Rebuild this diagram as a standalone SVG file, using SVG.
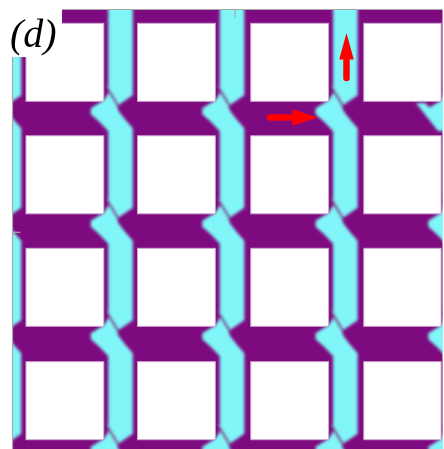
<svg xmlns="http://www.w3.org/2000/svg" xmlns:xlink="http://www.w3.org/1999/xlink" width="444" height="449" viewBox="0 0 444 449">
<style>
.field{fill:#7e0a80}
.cyan{fill:#80f6f8}
.sq{fill:#ffffff;stroke:#cfa9d0;stroke-width:1}
.cut{stroke:#7e0a80;stroke-width:2.6;stroke-linecap:round;opacity:0.85;fill:none}
.tick{stroke:#a8a8a8;stroke-width:1.2}
.arrow{fill:#ff0000;stroke:none}
.shaft{stroke:#ff0000;stroke-width:6.5;stroke-linecap:round;fill:none}
.lbl{font-family:"Liberation Serif","Times New Roman",serif;font-style:italic;font-size:40px;fill:#000}
</style>
<defs>
<clipPath id="fieldClip"><rect x="13" y="10" width="429.5" height="439"/></clipPath>
<filter id="soft" filterUnits="userSpaceOnUse" x="0" y="0" width="444" height="449"><feGaussianBlur stdDeviation="1.6"/></filter>
<g id="col">
<path class="cyan" d="M4.5,0 L4.5,93.3 L0,100.3 L-13,108.3 L-13,114.3 L-4,122.3 L4.5,131.3 L4.5,205.8 L0,212.8 L-13,220.8 L-13,226.8 L-4,234.8 L4.5,243.8 L4.5,318.3 L0,325.3 L-13,333.3 L-13,339.3 L-4,347.3 L4.5,356.3 L4.5,431.7 L0,438.7 L-13,446.7 L-13,452.7 L-4,460.7 L4.5,469.7 L4.5,472 L29,472 L29,466.7 L22,458.7 L15,449.7 L13,444.7 L29,433.7 L29,353.3 L22,345.3 L15,336.3 L13,331.3 L29,320.3 L29,240.8 L22,232.8 L15,223.8 L13,218.8 L29,207.8 L29,128.3 L22,120.3 L15,111.3 L13,106.3 L29,95.3 L29,0 Z"/>
<path class="cut" d="M3,87.3 L14,105.3 M3,199.8 L14,217.8 M3,312.3 L14,330.3 M3,425.7 L14,443.7"/>
</g>
</defs>
<g id="background">
<rect class="field" x="13" y="10" width="429.5" height="439"/>
</g>
<g id="stripes" clip-path="url(#fieldClip)">
<g filter="url(#soft)">
<use xlink:href="#col" href="#col" x="-7.8"/>
<use xlink:href="#col" href="#col" x="103.8"/>
<use xlink:href="#col" href="#col" x="215.3"/>
<use xlink:href="#col" href="#col" x="328.6"/>
<use xlink:href="#col" href="#col" x="441.3"/>
<path class="cyan" d="M416,103 L425,103 L444,122 L444,131 L438,131 Z"/>
</g>
</g>
<g id="squares">
<rect class="sq" x="26" y="23.3" width="77.8" height="78"/>
<rect class="sq" x="137.5" y="23.3" width="77.8" height="78"/>
<rect class="sq" x="250.8" y="23.3" width="77.8" height="78"/>
<rect class="sq" x="363.8" y="23.3" width="77.3" height="78"/>
<rect class="sq" x="26" y="135.8" width="77.8" height="78"/>
<rect class="sq" x="137.5" y="135.8" width="77.8" height="78"/>
<rect class="sq" x="250.8" y="135.8" width="77.8" height="78"/>
<rect class="sq" x="363.8" y="135.8" width="77.3" height="78"/>
<rect class="sq" x="26" y="248.3" width="77.8" height="78"/>
<rect class="sq" x="137.5" y="248.3" width="77.8" height="78"/>
<rect class="sq" x="250.8" y="248.3" width="77.8" height="78"/>
<rect class="sq" x="363.8" y="248.3" width="77.3" height="78"/>
<rect class="sq" x="26" y="361.7" width="77.8" height="78"/>
<rect class="sq" x="137.5" y="361.7" width="77.8" height="78"/>
<rect class="sq" x="250.8" y="361.7" width="77.8" height="78"/>
<rect class="sq" x="363.8" y="361.7" width="77.3" height="78"/>
</g>
<g id="frame">
<rect x="0" y="0" width="62" height="57" fill="#ffffff"/>
<line class="tick" x1="12.5" y1="57" x2="12.5" y2="449"/>
<line class="tick" x1="62" y1="9.5" x2="442.5" y2="9.5"/>
<line class="tick" x1="235" y1="10" x2="235" y2="17.5"/>
<line class="tick" x1="13" y1="232.3" x2="20.5" y2="232.3"/>
</g>
<g id="label">
<text class="lbl" x="10" y="47">(d)</text>
</g>
<g id="arrows">
<g id="arrow-up">
<line class="shaft" x1="346.5" y1="78" x2="346.5" y2="56"/>
<polygon class="arrow" points="346.5,33 353.8,59.5 339.2,59.5"/>
</g>
<g id="arrow-right">
<line class="shaft" x1="270" y1="117.5" x2="295" y2="117.5"/>
<polygon class="arrow" points="318,117.5 292.5,109.3 292.5,125.7"/>
</g>
</g>
</svg>
